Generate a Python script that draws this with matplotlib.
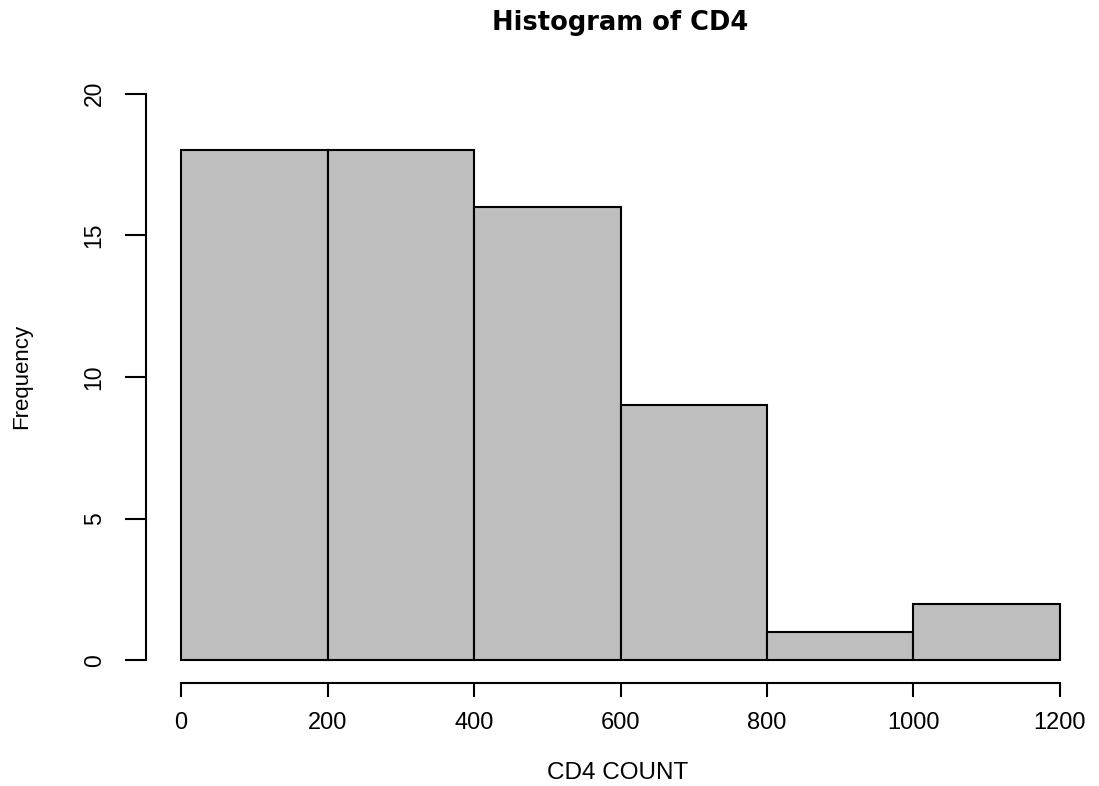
import matplotlib
matplotlib.use("Agg")
import matplotlib.pyplot as plt
import numpy as np

# histogram bins (CD4 count) and frequencies
bin_edges = [0, 200, 400, 600, 800, 1000, 1200]
counts = [18, 18, 16, 9, 1, 2]
x_ticks = [0, 200, 400, 600, 800, 1000, 1200]
y_ticks = [0, 5, 10, 15, 20]

plt.rcParams["font.family"] = ["Liberation Sans", "DejaVu Sans"]

W, H = 1099, 786
fig = plt.figure(figsize=(W / 100, H / 100), dpi=100)
ax = fig.add_axes([146 / W, 103 / H, 949 / W, 612 / H])

edges = np.array(bin_edges)
ax.bar(edges[:-1], counts, width=np.diff(edges), align="edge",
       color="#bebebe", edgecolor="black", linewidth=1.5)

ax.set_xlim(-48, 1248)
ax.set_ylim(-0.8, 20.8)
for s in ("top", "right"):
    ax.spines[s].set_visible(False)
ax.spines["left"].set_bounds(0, 20)
ax.spines["bottom"].set_bounds(0, 1200)
for s in ("left", "bottom"):
    ax.spines[s].set_linewidth(1.5)

ax.set_xticks(x_ticks)
ax.set_yticks(y_ticks)
ax.tick_params(axis="x", length=10, width=1.5, pad=11, labelsize=17)
ax.tick_params(axis="y", length=15, width=1.5, pad=14, labelsize=16.5)
for lbl in ax.get_yticklabels():
    lbl.set_rotation(90)
    lbl.set_va("center")

# titles placed in figure pixels to match the R layout
fig.text(618 / W, 1 - 773 / H, "CD4 COUNT", fontsize=17.5, ha="center", va="center")
fig.text(22 / W, 1 - 376 / H, "Frequency", fontsize=16, rotation=90, ha="center", va="center")
fig.text(620 / W, 1 - 23 / H, "Histogram of CD4", fontsize=18.5, fontweight="bold",
         family="DejaVu Sans", ha="center", va="center")

fig.savefig("out.png", dpi=100)
